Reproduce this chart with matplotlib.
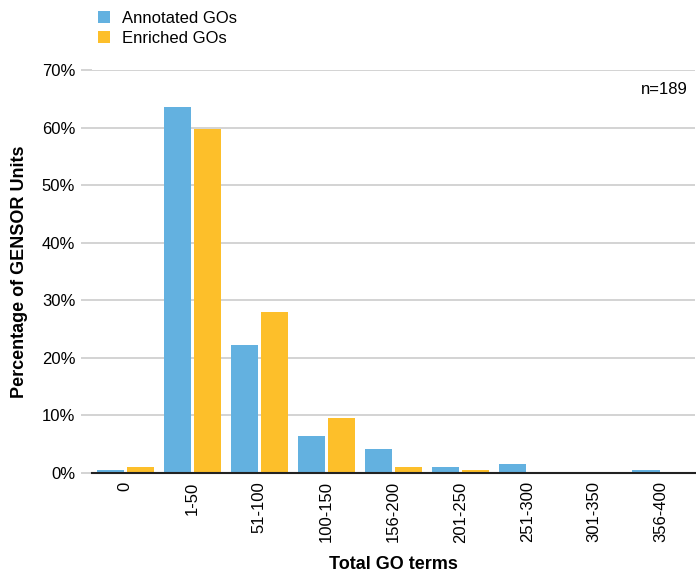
import matplotlib
matplotlib.use("Agg")
import matplotlib.pyplot as plt
import numpy as np
from matplotlib.ticker import FuncFormatter

plt.rcParams['font.family'] = ['Liberation Sans', 'DejaVu Sans']

categories = ["0", "1-50", "51-100", "100-150", "156-200", "201-250", "251-300", "301-350", "356-400"]
annotated = [0.53, 63.5, 22.2, 6.35, 4.23, 1.06, 1.59, 0.0, 0.53]
enriched = [1.06, 59.8, 28.0, 9.52, 1.06, 0.53, 0.0, 0.0, 0.0]

blue = "#63b1e0"
yellow = "#fdbf2a"

fig = plt.figure(figsize=(6.96, 5.74), dpi=100)
ax = fig.add_axes([0.132, 0.176, 0.866, 0.702])

x = np.arange(len(categories))
w = 0.405
gap = 0.045
ax.bar(x - (w + gap) / 2, annotated, width=w, color=blue, label="Annotated GOs", zorder=3)
ax.bar(x + (w + gap) / 2, enriched, width=w, color=yellow, label="Enriched GOs", zorder=3)

ax.set_xlim(-0.5, len(categories) - 0.5)
ax.set_ylim(0, 70)
ax.set_yticks(np.arange(0, 71, 10))
ax.yaxis.set_major_formatter(FuncFormatter(lambda v, p: f"{int(v)}%"))
ax.yaxis.grid(True, color="#cccccc", linewidth=1.2, zorder=0)
ax.set_axisbelow(True)
for s in ["top", "right", "left"]:
    ax.spines[s].set_visible(False)
ax.spines["bottom"].set_color("#222222")
ax.spines["bottom"].set_linewidth(1.5)
ax.spines["bottom"].set_zorder(4)
ax.tick_params(axis="y", length=8, color="#cccccc", width=1.2, labelsize=12, pad=4)
ax.tick_params(axis="x", length=0, labelsize=12, pad=6)
ax.set_xticks(x)
ax.set_xticklabels(categories, rotation=90)

ax.set_xlabel("Total GO terms", fontsize=13, fontweight="bold", labelpad=10)
ax.set_ylabel("Percentage of GENSOR Units", fontsize=13, fontweight="bold", labelpad=10)

ax.text(0.988, 0.952, "n=189", transform=ax.transAxes, ha="right", va="center", fontsize=12)

leg = fig.legend(loc="upper left", bbox_to_anchor=(0.131, 0.993), frameon=False, fontsize=12,
                 handlelength=0.72, handleheight=0.72, handletextpad=0.75, labelspacing=0.3,
                 borderaxespad=0)

fig.savefig("out.png", dpi=100)
